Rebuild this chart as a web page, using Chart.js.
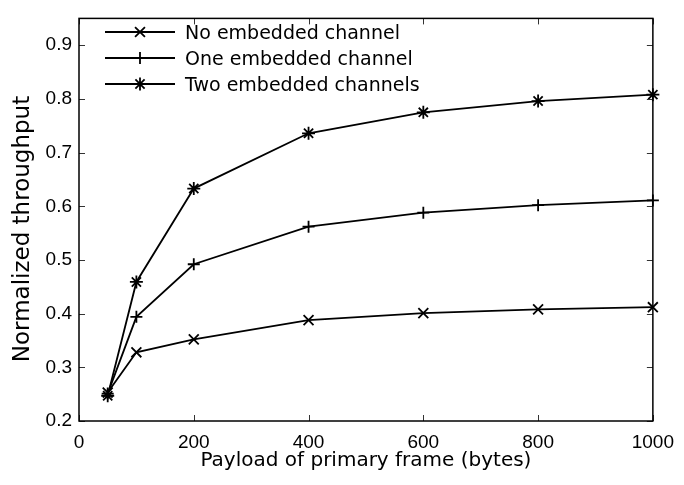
<!DOCTYPE html>
<html>
<head>
<meta charset="utf-8">
<title>Normalized throughput</title>
<script src="https://cdn.jsdelivr.net/npm/chart.js@4.4.1/dist/chart.umd.min.js"></script>
<style>
  html, body { margin: 0; padding: 0; background: #fff; }
  #chart { display: block; }
</style>
</head>
<body>
<canvas id="chart" width="684" height="485"></canvas>
<script>
// Data
const payloads = [50, 100, 200, 400, 600, 800, 1000];
const noEmbedded = [0.253, 0.328, 0.352, 0.388, 0.401, 0.408, 0.412];
const oneEmbedded = [0.251, 0.394, 0.492, 0.562, 0.588, 0.602, 0.611];
const twoEmbedded = [0.247, 0.459, 0.633, 0.736, 0.775, 0.796, 0.808];

const seriesLabels = ['No embedded channel', 'One embedded channel', 'Two embedded channels'];
const markerStyles = ['crossRot', 'cross', 'star'];
const markerSizes = [7, 6, 6.5];

const xTicks = [0, 200, 400, 600, 800, 1000];
const yTicks = [0.2, 0.3, 0.4, 0.5, 0.6, 0.7, 0.8, 0.9];
const yTitle = 'Normalized throughput';

const FONT = '"Liberation Sans", Arial, Helvetica, sans-serif';
const WIDE = '"DejaVu Sans", Verdana, sans-serif';
Chart.defaults.font.family = FONT;
Chart.defaults.color = '#000';

const toPoints = vals => vals.map((v, i) => ({ x: payloads[i], y: v }));

const datasets = [noEmbedded, oneEmbedded, twoEmbedded].map((vals, i) => ({
    label: seriesLabels[i],
    data: toPoints(vals),
    borderColor: '#000',
    backgroundColor: '#000',
    borderWidth: 1.8,
    pointStyle: markerStyles[i],
    pointRadius: markerSizes[i],
    pointHoverRadius: markerSizes[i],
    pointBorderWidth: 1.8,
    tension: 0,
    clip: false
}));

// Box around the plot, inward ticks, y title, legend inside the plot
const frameAndLegend = {
    id: 'frameAndLegend',
    afterDraw(chart) {
        const { ctx, chartArea: a, scales } = chart;
        ctx.save();

        // ticks pointing inward on all four sides
        ctx.strokeStyle = '#333';
        ctx.lineWidth = 1;
        const tl = 6;
        ctx.beginPath();
        xTicks.forEach(v => {
            const px = Math.round(scales.x.getPixelForValue(v)) + 0.5;
            ctx.moveTo(px, a.bottom); ctx.lineTo(px, a.bottom - tl);
            ctx.moveTo(px, a.top); ctx.lineTo(px, a.top + tl);
        });
        yTicks.forEach(v => {
            const py = Math.round(scales.y.getPixelForValue(v)) + 0.5;
            ctx.moveTo(a.left, py); ctx.lineTo(a.left + tl, py);
            ctx.moveTo(a.right, py); ctx.lineTo(a.right - tl, py);
        });
        ctx.stroke();

        // frame
        ctx.strokeStyle = '#000';
        ctx.lineWidth = 1.5;
        ctx.strokeRect(a.left, a.top, a.right - a.left, a.bottom - a.top);

        // y axis title (sits a bit below the plot centre in the original)
        ctx.save();
        ctx.translate(29, 229);
        ctx.rotate(-Math.PI / 2);
        ctx.font = '23px ' + WIDE;
        ctx.textAlign = 'center';
        ctx.textBaseline = 'alphabetic';
        ctx.fillStyle = '#000';
        ctx.fillText(yTitle, 0, 0);
        ctx.restore();

        // legend
        const lx0 = 105, lx1 = 175, tx = 185;
        const rows = [32, 58, 84];
        ctx.font = '19px ' + WIDE;
        ctx.textBaseline = 'alphabetic';
        ctx.textAlign = 'left';
        ctx.fillStyle = '#000';
        datasets.forEach((ds, i) => {
            const y = rows[i];
            ctx.strokeStyle = '#000';
            ctx.lineWidth = 1.8;
            ctx.beginPath();
            ctx.moveTo(lx0, y); ctx.lineTo(lx1, y);
            ctx.stroke();
            Chart.helpers.drawPoint(ctx, {
                pointStyle: ds.pointStyle,
                radius: ds.pointRadius,
                borderWidth: 1.8,
                rotation: 0
            }, (lx0 + lx1) / 2, y);
            ctx.fillText(ds.label, tx, y + 7);
        });
        ctx.restore();
    }
};

new Chart(document.getElementById('chart').getContext('2d'), {
    type: 'line',
    data: { datasets },
    options: {
        responsive: false,
        animation: false,
        events: [],
        layout: {
            autoPadding: false,
            padding: { top: 5, right: 24, bottom: 0, left: 0 }
        },
        plugins: {
            legend: { display: false },
            tooltip: { enabled: false }
        },
        scales: {
            x: {
                type: 'linear',
                min: 0,
                max: 1000,
                afterFit: s => { s.height = 64; },
                afterBuildTicks: s => { s.ticks = xTicks.map(v => ({ value: v })); },
                grid: { display: false, drawTicks: false },
                border: { display: false },
                ticks: {
                    font: { size: 19 },
                    padding: 10,
                    maxRotation: 0,
                    autoSkip: false,
                    callback: v => String(v)
                },
                title: {
                    display: true,
                    text: 'Payload of primary frame (bytes)',
                    font: { size: 20, family: WIDE },
                    padding: { top: 0, bottom: 12 }
                }
            },
            y: {
                type: 'linear',
                min: 0.2,
                max: 0.95,
                afterFit: s => { s.width = 79; },
                afterBuildTicks: s => { s.ticks = yTicks.map(v => ({ value: v })); },
                grid: { display: false, drawTicks: false },
                border: { display: false },
                ticks: {
                    font: { size: 19 },
                    padding: 7,
                    autoSkip: false,
                    callback: v => v.toFixed(1)
                }
            }
        }
    },
    plugins: [frameAndLegend]
});
</script>
</body>
</html>
